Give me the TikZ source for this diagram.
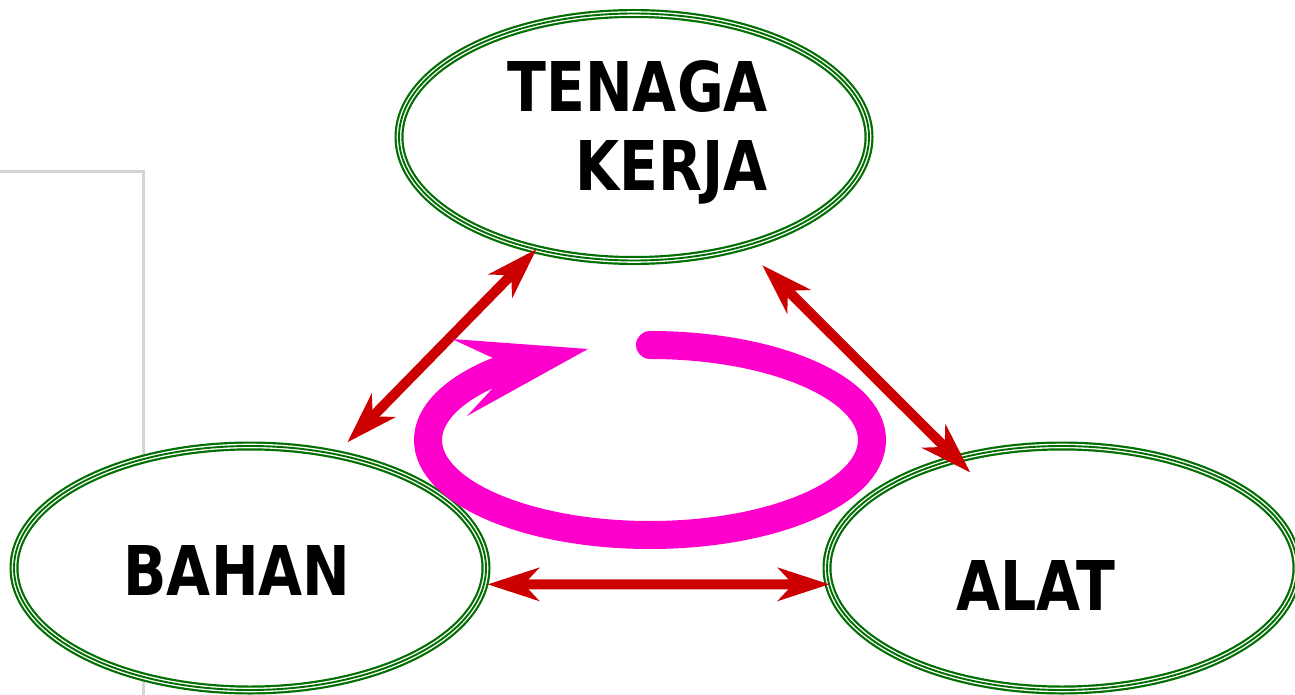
\documentclass[tikz,border=0pt]{standalone}
\usepackage{fontspec}
\newfontfamily\lblfont[FakeStretch=0.83]{DejaVu Sans}
\usetikzlibrary{arrows.meta,shapes.geometric}
\definecolor{dgreen}{RGB}{0,110,0}
\definecolor{ared}{RGB}{204,0,0}
\definecolor{mag}{RGB}{255,0,204}
\definecolor{lgray}{RGB}{212,212,212}
\begin{document}
\begin{tikzpicture}[x=1pt,y=-1pt,
  oval/.style={ellipse, draw=dgreen, fill=white, line width=9pt, inner sep=0pt, outer sep=0pt,
    postaction={draw=white, line width=4.6pt},
    postaction={draw=dgreen, line width=1.9pt}},
  lbl/.style={font=\lblfont\bfseries\fontsize{68.6}{78}\selectfont, inner sep=0pt, text=black},
  redarrow/.style={draw=ared, line width=10pt,
    {Stealth[length=52pt,width=34pt,inset=16pt,line width=0pt]}-{Stealth[length=52pt,width=34pt,inset=16pt,line width=0pt]}},
  swirl/.style={draw=mag, line width=28pt, line cap=round}
]
\useasboundingbox (0,0) rectangle (1295,695);
\draw[lgray, line width=3pt] (0,172) -- (143,172) -- (143,695);

\node[oval, minimum width=470pt, minimum height=247pt] (tk) at (634,137) {};
\node[oval, minimum width=472pt, minimum height=244pt] (bahan) at (250,568) {};
\node[oval, minimum width=470pt, minimum height=244pt] (alat) at (1062,568) {};

\node[lbl, anchor=base east] (t1) at (768,112) {TENAGA};
\node[lbl, anchor=base east] (t2) at (768,190) {KERJA};
\node[lbl, anchor=base] (tb) at (237,595) {BAHAN};
\node[lbl, anchor=base] (ta) at (1036,610) {ALAT};

\draw[redarrow, shorten <=4pt] (bahan.-4.3) -- (alat.184.3);
\draw[redarrow, shorten <=17pt] (bahan.53) -- (tk.229.4);
\draw[redarrow, shorten <=27pt, shorten >=-19pt] (tk.-45.2) -- (alat.134.4);

\draw[swirl] (650,345) arc[start angle=-90, end angle=226, x radius=222, y radius=95];
\fill[mag] (588,349) -- (452,339) -- (493,358) -- (492,389) -- (467,416) -- cycle;
\end{tikzpicture}
\end{document}
